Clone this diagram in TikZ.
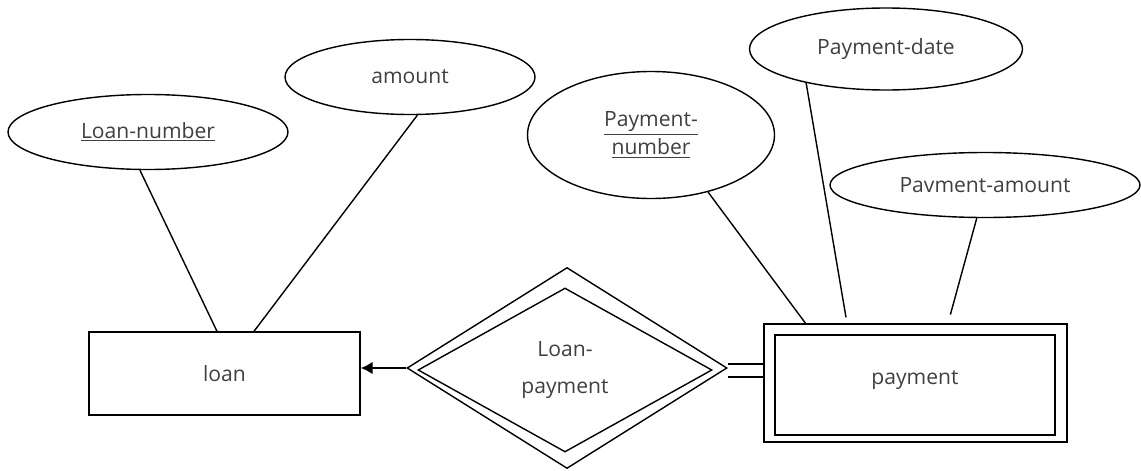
\documentclass[tikz,border=0pt]{standalone}
\usepackage{fontspec}
\setmainfont{Open Sans}
\usepackage{tikz}
\usetikzlibrary{positioning}
\usetikzlibrary{arrows,arrows.meta,shapes}
\tikzstyle{attribute}=[ellipse,draw,inner sep=0pt,align=center]
\tikzstyle{entity}=[rectangle,draw,inner sep=0pt]
\tikzstyle{relation}=[diamond,draw,inner sep=0pt,aspect=1.6,align=center]
\tikzstyle{txt} = [font=\fontsize{12}{14.5}\selectfont,text=black!75]

\begin{document}
\begin{tikzpicture}[x=0.02cm,y=-0.02cm,line width=0.8pt]

  \useasboundingbox (0,0) rectangle (1141,470);
  \def\u{0.02cm};

  % attributes
  \foreach \x/\y/\w/\h/\name/\label in {148/132/280/75/lnum/{\underline{Loan-number}}, 410/77/250/75/amt/amount, 651/135/247/127/pnum/{\underline{Payment-}\\[1.5pt]\underline{number}}, 886/49/273/82/pdate/Payment-date, 985/185/310/65/pamt/Pavment-amount}
    \node[attribute,txt,minimum width=\w*\u,minimum height=\h*\u] (\name) at (\x,\y) {\label};

  % entities
  \node[entity,txt,minimum width=271*\u,minimum height=83*\u] (loan) at (224.5,373.5) {loan};
  \node[entity,minimum width=303*\u,minimum height=118*\u] (payout) at (915.5,383) {};
  \node[entity,txt,minimum width=280*\u,minimum height=100*\u,text depth=0.3cm] (pay) at (915,385) {payment};

  % weak relationship
  \node[relation,minimum width=320*\u,minimum height=201*\u] (rel) at (567,368) {};
  \node[relation,txt,minimum width=294*\u,minimum height=164*\u] (relin) at (565,370) {Loan-\\[6pt]payment};

  \draw (lnum.-102) -- ([xshift=-7.5*\u]loan.north);
  \draw (amt.-79) -- ([xshift=29.5*\u]loan.north);
  \draw (pnum.-45) -- ([xshift=-110*\u]payout.north);
  \draw[shorten >=0.12cm] (pdate.-157) -- ([xshift=-68.5*\u]payout.north);
  \draw[shorten >=0.18cm] (pamt.-104) -- ([xshift=32.5*\u]payout.north);

  \draw[-{Latex[length=0.24cm,width=0.26cm]},line width=1.5pt] (rel.west) -- (rel.west -| loan.east);
  \draw ([yshift=4*\u]rel.east) coordinate (d1) -- (d1 -| payout.west);
  \draw ([yshift=-9*\u]rel.east) coordinate (d2) -- (d2 -| payout.west);

\end{tikzpicture}
\end{document}
